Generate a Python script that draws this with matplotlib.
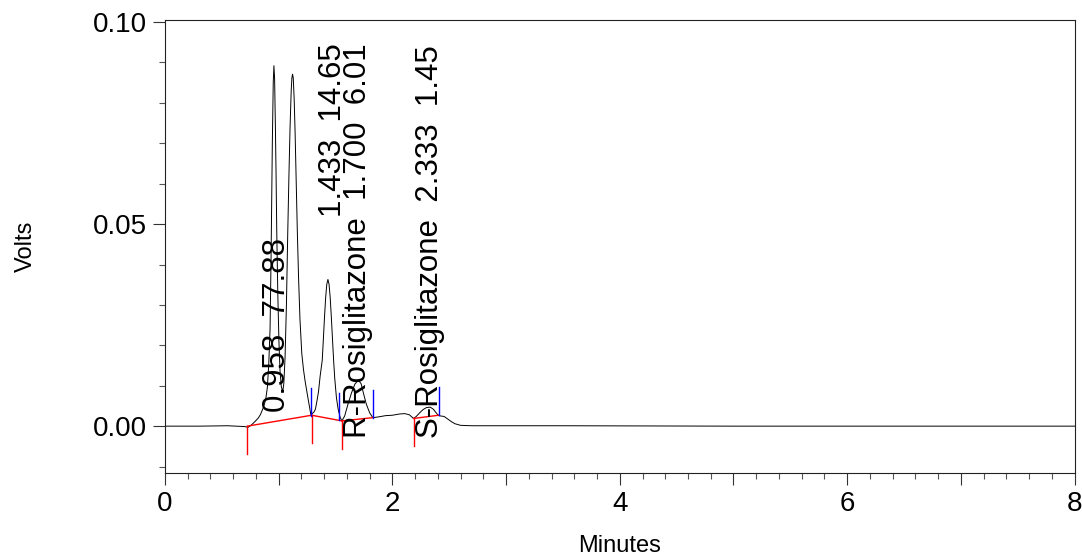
import matplotlib
matplotlib.use('Agg')
import matplotlib.pyplot as plt
from matplotlib.ticker import MultipleLocator, FuncFormatter

plt.rcParams['font.family'] = ['Liberation Sans', 'DejaVu Sans']

# ------------------------------------------
# Chromatogram trace (minutes, volts)
# ------------------------------------------
time_min = [0.000, 0.300, 0.550, 0.700, 0.730, 0.760, 0.790, 0.820, 0.840, 0.865,
            0.885, 0.900, 0.912, 0.924, 0.933, 0.944, 0.952, 0.958, 0.964, 0.971,
            0.977, 0.983, 0.992, 1.002, 1.012, 1.023, 1.035, 1.045, 1.056, 1.068,
            1.079, 1.090, 1.100, 1.110, 1.116, 1.122, 1.128, 1.136, 1.144, 1.154,
            1.164, 1.175, 1.187, 1.203, 1.218, 1.232, 1.248, 1.262, 1.274, 1.283,
            1.310, 1.323, 1.335, 1.350, 1.365, 1.383, 1.393, 1.403, 1.413, 1.423,
            1.433, 1.443, 1.453, 1.463, 1.473, 1.483, 1.493, 1.508, 1.523, 1.540,
            1.556, 1.580, 1.610, 1.640, 1.670, 1.700, 1.725, 1.745, 1.770, 1.800,
            1.828, 1.880, 1.940, 2.000, 2.060, 2.110, 2.150, 2.186, 2.210, 2.240,
            2.270, 2.300, 2.333, 2.360, 2.385, 2.406, 2.430, 2.455, 2.475, 2.500,
            2.525, 2.550, 2.600, 2.700, 3.500, 5.000, 8.000]
volts = [0.0000, 0.0000, 0.0001, -0.0001, -0.0003, 0.0003, 0.0011, 0.0020, 0.0029, 0.0046,
         0.0065, 0.0095, 0.0150, 0.0240, 0.0420, 0.0700, 0.0850, 0.0892, 0.0860, 0.0740,
         0.0620, 0.0480, 0.0330, 0.0210, 0.0135, 0.0098, 0.0085, 0.0105, 0.0170, 0.0300,
         0.0470, 0.0620, 0.0740, 0.0830, 0.0862, 0.0871, 0.0862, 0.0810, 0.0730, 0.0605,
         0.0480, 0.0365, 0.0265, 0.0180, 0.0140, 0.0112, 0.0085, 0.0062, 0.0043, 0.0028,
         0.0035, 0.0042, 0.0060, 0.0085, 0.0125, 0.0163, 0.0216, 0.0270, 0.0318, 0.0351,
         0.0363, 0.0351, 0.0318, 0.0270, 0.0216, 0.0163, 0.0118, 0.0070, 0.0042, 0.0022,
         0.0013, 0.0025, 0.0055, 0.0082, 0.0104, 0.0114, 0.0105, 0.0082, 0.0055, 0.0033,
         0.0021, 0.0023, 0.0026, 0.0027, 0.0030, 0.0031, 0.0028, 0.0019, 0.0024, 0.0033,
         0.0041, 0.0046, 0.0047, 0.0042, 0.0033, 0.0026, 0.0025, 0.0024, 0.0020, 0.0015,
         0.0010, 0.0006, 0.0002, 0.0001, 0.0001, 0.0000, 0.0000]

# Integration baselines (start / end of each segment)
seg_start_t = [0.724, 1.290, 1.556, 2.186]
seg_start_v = [0.0000, 0.0027, 0.0013, 0.0019]
seg_end_t = [1.290, 1.556, 1.828, 2.406]
seg_end_v = [0.0027, 0.0013, 0.0021, 0.0027]

# Peak end markers
peak_end_t = [1.283, 1.532, 1.828, 2.406]
peak_end_v = [0.0026, 0.0014, 0.0021, 0.0027]

# Peak table
peak_names = ['', '', 'R-Rosiglitazone', 'S-Rosiglitazone']
ret_times = [0.958, 1.433, 1.700, 2.333]
areas = [77.88, 14.65, 6.01, 1.45]

# where the annotations sit (bottom end of the rotated text)
label_x = [0.985, 1.480, 1.697, 2.328]
label_y = [0.0035, 0.0518, -0.0030, -0.0030]
mark_len = 0.0069

# ------------------------------------------
# Figure
# ------------------------------------------
fig = plt.figure(figsize=(10.82, 5.55), dpi=100)
ax = fig.add_axes([0.1525, 0.1477, 0.8406, 0.8162])

ax.plot(time_min, volts, color='black', linewidth=0.7, zorder=2)

# baselines and event ticks
for t0, v0, t1, v1 in zip(seg_start_t, seg_start_v, seg_end_t, seg_end_v):
    ax.plot([t0, t1], [v0, v1], color='red', linewidth=1.0, zorder=3)
    ax.plot([t0, t0], [v0, v0 - mark_len], color='red', linewidth=1.0, zorder=3)
for t, v in zip(peak_end_t, peak_end_v):
    ax.plot([t, t], [v, v + mark_len], color='blue', linewidth=1.0, zorder=3)

# peak labels
for name, rt, area, lx, ly in zip(peak_names, ret_times, areas, label_x, label_y):
    txt = f'{rt:.3f}  {area:.2f}'
    if name:
        txt = f'{name}  {txt}'
    ax.text(lx, ly, txt, rotation=90, ha='center', va='bottom',
            fontsize=22.5, color='black', zorder=4)

ax.set_xlim(0, 8)
ax.set_ylim(-0.0116, 0.1005)

ax.xaxis.set_major_locator(MultipleLocator(1))
ax.xaxis.set_minor_locator(MultipleLocator(0.2))
ax.xaxis.set_major_formatter(FuncFormatter(lambda v, p: f'{v:.0f}' if round(v) % 2 == 0 else ''))
ax.yaxis.set_major_locator(MultipleLocator(0.05))
ax.yaxis.set_minor_locator(MultipleLocator(0.01))
ax.yaxis.set_major_formatter(FuncFormatter(lambda v, p: f'{v:.2f}'))

ax.tick_params(which='major', direction='out', length=8.3, width=0.8,
               color='#333333', labelsize=20, pad=5)
ax.tick_params(which='minor', direction='out', length=4.1, width=0.8, color='#555555')
for s in ax.spines.values():
    s.set_linewidth(0.8)
    s.set_color('#222222')

fig.text(26 / 1082, 1 - 246 / 555, 'Volts', rotation=90, ha='center', va='center', fontsize=17)
fig.text(619.5 / 1082, 3 / 555, 'Minutes', ha='center', va='baseline', fontsize=17)

plt.savefig('out.png', dpi=100)
plt.close()
